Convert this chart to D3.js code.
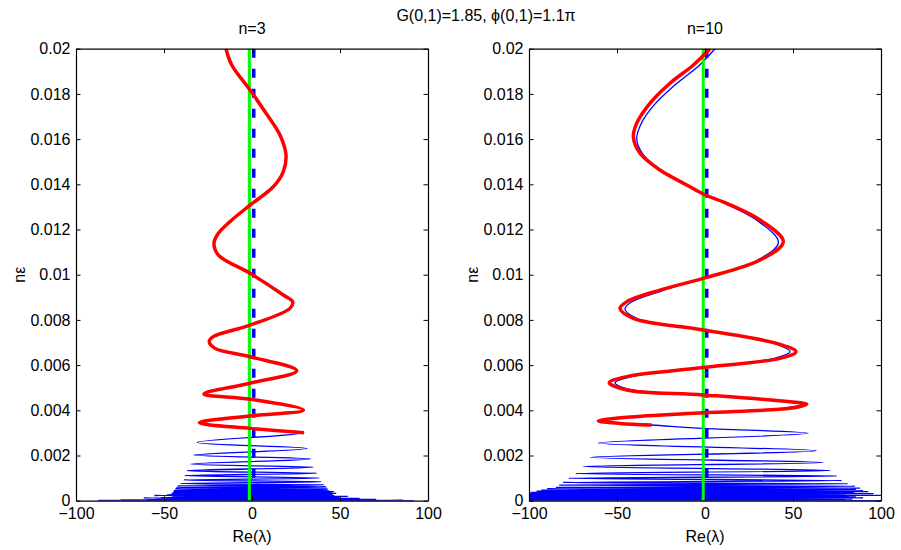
<!DOCTYPE html>
<html>
<head>
<meta charset="utf-8">
<script src="https://cdn.jsdelivr.net/npm/d3@7"></script>
<style>
  body { margin: 0; background: #fff; }
  svg { display: block; }
  text { font-family: "Liberation Sans", Arial, Helvetica, sans-serif; fill: #000; }
</style>
</head>
<body>
<svg id="chart" width="901" height="550"></svg>
<script>
// ---- labels and ticks ----
const suptitle = "G(0,1)=1.85, \u03D5(0,1)=1.1\u03C0";
const panelTitles = ["n=3", "n=10"];
const xLabel = "Re(\u03BB)";
const yLabel = "n\u03B5";
const xTicks = [-100, -50, 0, 50, 100];
const xTickLabels = ["\u2212100", "\u221250", "0", "50", "100"];
const yTicks = [0, 0.002, 0.004, 0.006, 0.008, 0.01, 0.012, 0.014, 0.016, 0.018, 0.02];
const yTickLabels = ["0", "0.002", "0.004", "0.006", "0.008", "0.01", "0.012", "0.014", "0.016", "0.018", "0.02"];
const xDomain = [-100, 100];
const yDomain = [0, 0.02];

// ---- reference lines: [green solid x, blue dashed x] ----
const refLines3 = [-1.5, 1.0];
const refLines10 = [-1.0, 1.0];

// ---- n = 3 : [Re(lambda), n*eps] ----
const red3 = [
  [-14.8, 0.02], [-11.5, 0.01928], [-1.1, 0.01817], [7.4, 0.01721], [15.9, 0.01618],
  [19.3, 0.0153], [17.8, 0.01456], [12.1, 0.01389], [-1.1, 0.01308], [-12.5, 0.01235],
  [-19.1, 0.01183], [-21.6, 0.0114], [-19.1, 0.01087], [-1.1, 0.01006], [17.8, 0.0091],
  [23.1, 0.0088], [21.6, 0.00851], [-1.1, 0.00777], [-22, 0.00726], [-24.3, 0.00704],
  [-21, 0.00674], [-1.1, 0.00637], [25.4, 0.00575], [-1.1, 0.0052], [-27.3, 0.00472],
  [-1.1, 0.00449], [29.2, 0.00401], [-1.1, 0.00375], [-29.9, 0.00345], [-1.1, 0.0032],
  [29.5, 0.00301]
];
const blueTail3 = [
  [-31.1, 0.00258], [31.4, 0.00231], [-33, 0.00202], [33.3, 0.00185], [-34.8, 0.00162],
  [34.8, 0.00148], [-36.8, 0.00133], [36.8, 0.00121], [-38.1, 0.00111], [38.3, 0.001],
  [-39, 0.00092], [39.6, 0.00084], [-40.9, 0.00076], [40.9, 0.0007], [-42.4, 0.00066],
  [42, 0.00062], [-43.2, 0.00059], [42.8, 0.00056], [-43.7, 0.00053], [43.4, 0.0005],
  [-44.2, 0.00047], [44, 0.00045], [-44.7, 0.00043], [46.8, 0.0004], [-45, 0.00038],
  [45.5, 0.00036], [-45.6, 0.00034], [48.1, 0.00032], [-46, 0.0003], [46, 0.00028],
  [-48.5, 0.00027], [44, 0.00025], [-55.7, 0.00023], [47, 0.00022], [-46, 0.0002],
  [54.7, 0.00019], [-45, 0.00017], [50, 0.00016], [-52, 0.00014], [46, 0.00013],
  [-61.7, 0.00012], [61.4, 0.0001], [-50, 0.00009], [52, 0.00008], [-55, 0.00007],
  [70.8, 0.00006], [-60, 0.00005], [58, 0.00004], [-75, 0.00003], [86, 0.00002],
  [-87.3, 0.00001], [92, 0.000003]
];

// ---- n = 10 ----
const red10 = [
  [2.8, 0.02], [-6.6, 0.01928], [-19.9, 0.01847], [-31.3, 0.01758], [-38.8, 0.0167],
  [-40.7, 0.0161], [-36.9, 0.01537], [-25.6, 0.01463], [-10.4, 0.01397], [-1, 0.01357],
  [12.3, 0.01316], [31.3, 0.01242], [44.5, 0.01146], [31.3, 0.01065], [-1, 0.00984],
  [-25.6, 0.00932], [-44.5, 0.0088], [-48.3, 0.00851], [-40.7, 0.00807], [-1, 0.00755],
  [40.7, 0.00696], [51.7, 0.00659], [42.6, 0.0063], [-1, 0.00589], [-44.5, 0.00549],
  [-54.4, 0.00522], [-44.5, 0.0049], [-1, 0.00468], [48.3, 0.00438], [57.8, 0.00427],
  [48.3, 0.00409], [-1, 0.00389], [-44.5, 0.00369], [-60.6, 0.00353], [-48.3, 0.00342],
  [-30.3, 0.00335]
];
const blueUpper10 = [
  [5.7, 0.02], [-3.5, 0.01925], [-17, 0.0184], [-29, 0.0175], [-36.5, 0.01665],
  [-38.8, 0.016], [-35, 0.0153], [-24.5, 0.0146], [-10, 0.01395], [-1, 0.01357],
  [12, 0.01313], [30, 0.01238], [41.7, 0.01143], [29.5, 0.01063], [-1, 0.00984],
  [-24, 0.0093], [-42, 0.00878], [-45.5, 0.00848], [-38.5, 0.00806], [-1, 0.00755],
  [38.5, 0.00697], [48.3, 0.00659], [40, 0.00631], [-1, 0.00589], [-42, 0.00549],
  [-51.1, 0.00522], [-42, 0.00491], [-1, 0.00468], [45.5, 0.00438], [54.5, 0.00427],
  [45.5, 0.0041], [-1, 0.00389], [-42, 0.0037], [-56.8, 0.00352], [-45, 0.00341],
  [-30.3, 0.00335]
];
const blueLower10 = [
  [-1, 0.0032], [58.7, 0.00298], [-60.8, 0.00255], [63.2, 0.00221], [-65.2, 0.00192],
  [67.3, 0.00169], [-69.2, 0.00151], [71, 0.00134], [-73.5, 0.0012], [75, 0.00109],
  [-77.5, 0.00099], [77.8, 0.00089], [-80.9, 0.00081], [81.3, 0.00075], [-83.1, 0.00069],
  [85.4, 0.00064], [-85, 0.00059], [88.3, 0.00056], [-90, 0.00053], [86, 0.0005],
  [-93.4, 0.00047], [90, 0.00044], [-96, 0.00042], [93, 0.0004], [-99.3, 0.00037],
  [85, 0.00035], [-103, 0.00033], [96, 0.00031], [-105, 0.00029], [80, 0.00027],
  [-104, 0.00025], [101, 0.00024], [-110, 0.00022], [82, 0.0002], [-104, 0.00018],
  [86, 0.00017], [-108, 0.00015], [90, 0.00013], [-103, 0.00012], [78, 0.0001],
  [-106, 0.00009], [84, 0.00007], [-103, 0.00006], [73, 0.00004], [-101, 0.00003],
  [80, 0.00002], [-102, 0.00001], [100, 0.000003]
];

// ---- layout ----
const W = 901, H = 550;
const panels = [
  { left: 76, right: 428, title: panelTitles[0], red: red3, blue: red3.concat(blueTail3), refs: refLines3 },
  { left: 529, right: 881, title: panelTitles[1], red: red10, blue: blueUpper10.concat(blueLower10), refs: refLines10 }
];
const plotTop = 48.7, plotBottom = 500.7;
const FS = 16;

const svg = d3.select("#chart");
svg.append("rect").attr("width", W).attr("height", H).attr("fill", "#fff");

svg.append("text")
  .attr("x", 486).attr("y", 20.5)
  .attr("text-anchor", "middle")
  .style("font-size", FS + "px")
  .text(suptitle);

panels.forEach((p, i) => {
  const x = d3.scaleLinear().domain(xDomain).range([p.left, p.right]);
  const y = d3.scaleLinear().domain(yDomain).range([plotBottom, plotTop]);
  const g = svg.append("g");
  const clipId = "clip" + i;
  svg.append("clipPath").attr("id", clipId)
    .append("rect").attr("x", p.left).attr("y", plotTop)
    .attr("width", p.right - p.left).attr("height", plotBottom - plotTop);

  const plot = g.append("g").attr("clip-path", `url(#${clipId})`);
  const line = d3.line()
    .x(d => x(d[0])).y(d => y(d[1]))
    .curve(d3.curveCatmullRom.alpha(0.5));

  // thin blue trajectory
  plot.append("path").datum(p.blue)
    .attr("d", line).attr("fill", "none")
    .attr("stroke", "#0000ff").attr("stroke-width", 1.3);

  // green solid reference
  plot.append("path").datum([[p.refs[0], yDomain[0]], [p.refs[0], yDomain[1]]])
    .attr("d", d3.line().x(d => x(d[0])).y(d => y(d[1])))
    .attr("stroke", "#00ff00").attr("stroke-width", 3).attr("fill", "none");

  // blue dashed reference (drawn from the top down)
  plot.append("path").datum([[p.refs[1], yDomain[1]], [p.refs[1], yDomain[0]]])
    .attr("d", d3.line().x(d => x(d[0])).y(d => y(d[1])))
    .attr("stroke", "#0000ff").attr("stroke-width", 3.5)
    .attr("stroke-dasharray", "9,11").attr("fill", "none");

  // thick red approximation
  plot.append("path").datum(p.red)
    .attr("d", line).attr("fill", "none")
    .attr("stroke", "#ff0000").attr("stroke-width", 3.5)
    .attr("stroke-linejoin", "round");

  // axes (ticks inside, box)
  const tick = 4.5;
  const axB = g.append("g").attr("transform", `translate(0,${plotBottom})`)
    .call(d3.axisBottom(x).tickValues(xTicks).tickSizeInner(-tick).tickSizeOuter(0)
      .tickPadding(7).tickFormat((d, k) => xTickLabels[k]));
  const axT = g.append("g").attr("transform", `translate(0,${plotTop})`)
    .call(d3.axisTop(x).tickValues(xTicks).tickSizeInner(-tick).tickSizeOuter(0)
      .tickFormat(() => ""));
  const axL = g.append("g").attr("transform", `translate(${p.left},0)`)
    .call(d3.axisLeft(y).tickValues(yTicks).tickSizeInner(-tick).tickSizeOuter(0)
      .tickPadding(5.5).tickFormat((d, k) => yTickLabels[k]));
  const axR = g.append("g").attr("transform", `translate(${p.right},0)`)
    .call(d3.axisRight(y).tickValues(yTicks).tickSizeInner(-tick).tickSizeOuter(0)
      .tickFormat(() => ""));
  [axB, axT, axL, axR].forEach(a => {
    a.select(".domain").attr("stroke", "#000").attr("stroke-width", 1.2);
    a.selectAll(".tick line").attr("stroke", "#000").attr("stroke-width", 1);
    a.selectAll("text").style("font-size", FS + "px")
      .style("font-family", '"Liberation Sans", Arial, Helvetica, sans-serif').attr("fill", "#000");
  });

  const cx = (p.left + p.right) / 2;
  g.append("text").attr("x", cx).attr("y", 34.3)
    .attr("text-anchor", "middle").style("font-size", FS + "px").text(p.title);
  g.append("text").attr("x", cx).attr("y", 542)
    .attr("text-anchor", "middle").style("font-size", FS + "px").text(xLabel);
  g.append("text")
    .attr("transform", `translate(${p.left - 51},${(plotTop + plotBottom) / 2}) rotate(-90)`)
    .attr("text-anchor", "middle").style("font-size", FS + "px").text(yLabel);
});
</script>
</body>
</html>
